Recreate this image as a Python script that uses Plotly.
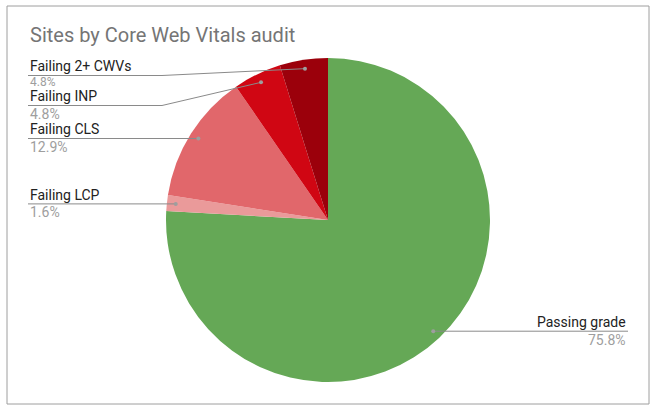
import math
import plotly.graph_objects as go

# ---- data ----
labels = ["Passing grade", "Failing LCP", "Failing CLS", "Failing INP", "Failing 2+ CWVs"]
values = [75.8, 1.6, 12.9, 4.8, 4.8]
pct_text = ["75.8%", "1.6%", "12.9%", "4.8%", "4.8%"]
colors = ["#65a856", "#ea9a9a", "#e1676b", "#d00613", "#9b000b"]
title_text = "Sites by Core Web Vitals audit"

# ---- layout constants (pixels) ----
W, H = 657, 410
CX, CY, R = 328, 220, 162
DOT_R = 0.945 * R
LEFT_X, RIGHT_X = 28, 628
KNEE_X = 162
fixed_line_y = [None, None, None, 105.5, 75.5]   # label rows that need a bent leader
side = ["right", "left", "left", "left", "left"]
pct_size = [14, 14, 14, 14, 12]
pct_off = [8.5, 8.5, 8.5, 8.0, 6.5]

def px(x):
    return x / W

def py(y):
    return 1 - y / H

fig = go.Figure(go.Pie(
    labels=labels, values=values, sort=False, direction="clockwise", rotation=0,
    marker=dict(colors=colors, line=dict(width=0)), textinfo="none",
    showlegend=False,
    domain=dict(x=[px(CX - R), px(CX + R)], y=[py(CY + R), py(CY - R)]),
))

shapes = [dict(type="rect", xref="paper", yref="paper", x0=px(7), x1=px(649),
               y0=py(404), y1=py(6), line=dict(color="#9e9e9e", width=1))]
annotations = [dict(text=title_text, x=px(LEFT_X), y=py(35.5), xref="paper", yref="paper",
                    xanchor="left", yanchor="middle", showarrow=False,
                    font=dict(family="Roboto", size=20, color="#757575"))]

total = sum(values)
cum = 0.0
for i, v in enumerate(values):
    mid = (cum + v / 2) / total * 2 * math.pi
    cum += v
    dx = CX + DOT_R * math.sin(mid)
    dy = CY - DOT_R * math.cos(mid)
    ly = fixed_line_y[i] if fixed_line_y[i] is not None else dy
    if side[i] == "left":
        pts = [(LEFT_X, ly), (KNEE_X, ly), (dx, dy)] if fixed_line_y[i] is not None else [(LEFT_X, ly), (dx, dy)]
        tx, anchor = LEFT_X, "left"
    else:
        pts = [(dx, dy), (RIGHT_X, ly)]
        tx, anchor = RIGHT_X, "right"
    path = "M " + " L ".join(f"{px(a)},{py(b)}" for a, b in pts)
    shapes.append(dict(type="path", path=path, xref="paper", yref="paper",
                       line=dict(color="#8a8a8a", width=1)))
    shapes.append(dict(type="circle", xref="paper", yref="paper",
                       x0=px(dx - 2), x1=px(dx + 2), y0=py(dy + 2), y1=py(dy - 2),
                       fillcolor="#9e9e9e", line=dict(width=0)))
    annotations.append(dict(text=labels[i], x=px(tx), y=py(ly - 9.3), xref="paper", yref="paper",
                            xanchor=anchor, yanchor="middle", showarrow=False,
                            font=dict(family="Roboto", size=14, color="#222222")))
    annotations.append(dict(text=pct_text[i], x=px(tx), y=py(ly + pct_off[i]), xref="paper", yref="paper",
                            xanchor=anchor, yanchor="middle", showarrow=False,
                            font=dict(family="Roboto", size=pct_size[i], color="#9e9e9e")))

fig.update_layout(width=W, height=H, margin=dict(l=0, r=0, t=0, b=0),
                  paper_bgcolor="white", plot_bgcolor="white",
                  shapes=shapes, annotations=annotations)
fig.write_html("out.html", config={"displayModeBar": False},
               post_script="document.body.style.margin='0';")
